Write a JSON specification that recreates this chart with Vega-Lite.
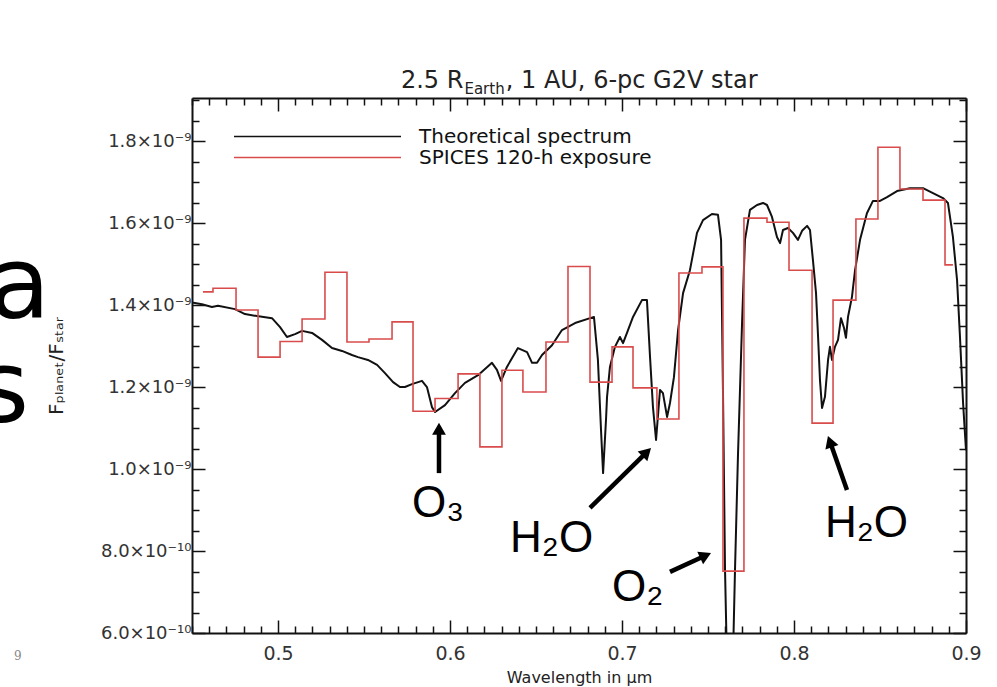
{
  "$schema": "https://vega.github.io/schema/vega-lite/v6.json",
  "width": 774,
  "height": 535,
  "autosize": {"type": "none"},
  "padding": {"left": 192, "top": 98, "right": 31, "bottom": 54},
  "background": "white",
  "config": {
    "view": {"stroke": null},
    "font": "DejaVu Sans",
    "axis": {
      "domainColor": "#111111",
      "domainWidth": 2,
      "tickColor": "#111111",
      "tickWidth": 1.5,
      "labelFont": "DejaVu Sans",
      "labelColor": "#333333",
      "titleFont": "DejaVu Sans",
      "titleColor": "#222222",
      "titleFontWeight": "normal",
      "grid": false,
      "labelOverlap": false
    }
  },
  "datasets": {
    "spectrum": [
      {"wl": 0.4500, "flux": 1.406e-9}, {"wl": 0.4558, "flux": 1.402e-9}, {"wl": 0.4616, "flux": 1.395e-9},
      {"wl": 0.4651, "flux": 1.398e-9}, {"wl": 0.4750, "flux": 1.390e-9}, {"wl": 0.4808, "flux": 1.378e-9},
      {"wl": 0.4878, "flux": 1.373e-9}, {"wl": 0.4965, "flux": 1.368e-9}, {"wl": 0.5012, "flux": 1.346e-9},
      {"wl": 0.5052, "flux": 1.322e-9}, {"wl": 0.5099, "flux": 1.329e-9}, {"wl": 0.5140, "flux": 1.337e-9},
      {"wl": 0.5198, "flux": 1.332e-9}, {"wl": 0.5256, "flux": 1.315e-9}, {"wl": 0.5314, "flux": 1.295e-9},
      {"wl": 0.5372, "flux": 1.288e-9}, {"wl": 0.5430, "flux": 1.278e-9}, {"wl": 0.5465, "flux": 1.273e-9},
      {"wl": 0.5523, "flux": 1.266e-9}, {"wl": 0.5576, "flux": 1.254e-9}, {"wl": 0.5622, "flux": 1.234e-9},
      {"wl": 0.5669, "flux": 1.212e-9}, {"wl": 0.5709, "flux": 1.200e-9}, {"wl": 0.5738, "flux": 1.200e-9},
      {"wl": 0.5779, "flux": 1.207e-9}, {"wl": 0.5837, "flux": 1.215e-9}, {"wl": 0.5866, "flux": 1.200e-9},
      {"wl": 0.5895, "flux": 1.151e-9}, {"wl": 0.5913, "flux": 1.139e-9}, {"wl": 0.5971, "flux": 1.156e-9},
      {"wl": 0.6029, "flux": 1.185e-9}, {"wl": 0.6087, "flux": 1.210e-9}, {"wl": 0.6163, "flux": 1.229e-9},
      {"wl": 0.6244, "flux": 1.259e-9}, {"wl": 0.6273, "flux": 1.242e-9}, {"wl": 0.6297, "flux": 1.215e-9},
      {"wl": 0.6331, "flux": 1.249e-9}, {"wl": 0.6395, "flux": 1.295e-9}, {"wl": 0.6448, "flux": 1.285e-9},
      {"wl": 0.6477, "flux": 1.259e-9}, {"wl": 0.6506, "flux": 1.259e-9}, {"wl": 0.6535, "flux": 1.278e-9},
      {"wl": 0.6593, "flux": 1.302e-9}, {"wl": 0.6651, "flux": 1.339e-9}, {"wl": 0.6727, "flux": 1.356e-9},
      {"wl": 0.6837, "flux": 1.371e-9}, {"wl": 0.6860, "flux": 1.266e-9}, {"wl": 0.6878, "flux": 1.095e-9},
      {"wl": 0.6890, "flux": 0.990e-9}, {"wl": 0.6907, "flux": 1.120e-9}, {"wl": 0.6913, "flux": 1.176e-9},
      {"wl": 0.6930, "flux": 1.249e-9}, {"wl": 0.6959, "flux": 1.298e-9}, {"wl": 0.6988, "flux": 1.322e-9},
      {"wl": 0.7006, "flux": 1.307e-9}, {"wl": 0.7029, "flux": 1.332e-9}, {"wl": 0.7064, "flux": 1.371e-9},
      {"wl": 0.7116, "flux": 1.412e-9}, {"wl": 0.7145, "flux": 1.412e-9}, {"wl": 0.7163, "flux": 1.273e-9},
      {"wl": 0.7180, "flux": 1.151e-9}, {"wl": 0.7198, "flux": 1.071e-9}, {"wl": 0.7221, "flux": 1.193e-9},
      {"wl": 0.7238, "flux": 1.185e-9}, {"wl": 0.7262, "flux": 1.127e-9}, {"wl": 0.7279, "flux": 1.161e-9},
      {"wl": 0.7302, "flux": 1.224e-9}, {"wl": 0.7326, "flux": 1.339e-9}, {"wl": 0.7355, "flux": 1.429e-9},
      {"wl": 0.7395, "flux": 1.485e-9}, {"wl": 0.7436, "flux": 1.576e-9}, {"wl": 0.7471, "flux": 1.607e-9},
      {"wl": 0.7523, "flux": 1.622e-9}, {"wl": 0.7558, "flux": 1.620e-9}, {"wl": 0.7576, "flux": 1.559e-9},
      {"wl": 0.7587, "flux": 1.193e-9}, {"wl": 0.7599, "flux": 0.754e-9}, {"wl": 0.7610, "flux": 0.534e-9},
      {"wl": 0.7645, "flux": 0.534e-9}, {"wl": 0.7657, "flux": 0.754e-9}, {"wl": 0.7674, "flux": 1.029e-9},
      {"wl": 0.7698, "flux": 1.356e-9}, {"wl": 0.7715, "flux": 1.559e-9}, {"wl": 0.7744, "flux": 1.632e-9},
      {"wl": 0.7785, "flux": 1.644e-9}, {"wl": 0.7820, "flux": 1.649e-9}, {"wl": 0.7843, "flux": 1.644e-9},
      {"wl": 0.7872, "flux": 1.615e-9}, {"wl": 0.7901, "flux": 1.566e-9}, {"wl": 0.7919, "flux": 1.551e-9},
      {"wl": 0.7936, "flux": 1.583e-9}, {"wl": 0.7965, "flux": 1.588e-9}, {"wl": 0.7994, "flux": 1.576e-9},
      {"wl": 0.8023, "flux": 1.559e-9}, {"wl": 0.8047, "flux": 1.581e-9}, {"wl": 0.8076, "flux": 1.593e-9},
      {"wl": 0.8093, "flux": 1.583e-9}, {"wl": 0.8110, "flux": 1.510e-9}, {"wl": 0.8128, "flux": 1.429e-9},
      {"wl": 0.8140, "flux": 1.322e-9}, {"wl": 0.8151, "flux": 1.217e-9}, {"wl": 0.8163, "flux": 1.149e-9},
      {"wl": 0.8180, "flux": 1.176e-9}, {"wl": 0.8198, "flux": 1.266e-9}, {"wl": 0.8209, "flux": 1.298e-9},
      {"wl": 0.8221, "flux": 1.266e-9}, {"wl": 0.8238, "flux": 1.298e-9}, {"wl": 0.8256, "flux": 1.315e-9},
      {"wl": 0.8273, "flux": 1.368e-9}, {"wl": 0.8291, "flux": 1.344e-9}, {"wl": 0.8302, "flux": 1.320e-9},
      {"wl": 0.8314, "flux": 1.371e-9}, {"wl": 0.8337, "flux": 1.420e-9}, {"wl": 0.8355, "flux": 1.485e-9},
      {"wl": 0.8384, "flux": 1.559e-9}, {"wl": 0.8424, "flux": 1.624e-9}, {"wl": 0.8459, "flux": 1.654e-9},
      {"wl": 0.8500, "flux": 1.654e-9}, {"wl": 0.8541, "flux": 1.663e-9}, {"wl": 0.8599, "flux": 1.678e-9},
      {"wl": 0.8674, "flux": 1.685e-9}, {"wl": 0.8750, "flux": 1.685e-9}, {"wl": 0.8808, "flux": 1.673e-9},
      {"wl": 0.8866, "flux": 1.661e-9}, {"wl": 0.8895, "flux": 1.649e-9}, {"wl": 0.8924, "flux": 1.566e-9},
      {"wl": 0.8948, "flux": 1.461e-9}, {"wl": 0.8965, "flux": 1.322e-9}, {"wl": 0.8983, "flux": 1.161e-9},
      {"wl": 0.9000, "flux": 1.046e-9}
    ],
    "spices": [
      {"wl": 0.4564, "flux": 1.432e-9}, {"wl": 0.4622, "flux": 1.441e-9}, {"wl": 0.4756, "flux": 1.388e-9},
      {"wl": 0.4884, "flux": 1.273e-9}, {"wl": 0.5012, "flux": 1.311e-9}, {"wl": 0.5140, "flux": 1.366e-9},
      {"wl": 0.5273, "flux": 1.480e-9}, {"wl": 0.5401, "flux": 1.310e-9}, {"wl": 0.5529, "flux": 1.317e-9},
      {"wl": 0.5663, "flux": 1.359e-9}, {"wl": 0.5785, "flux": 1.141e-9}, {"wl": 0.5913, "flux": 1.172e-9},
      {"wl": 0.6047, "flux": 1.232e-9}, {"wl": 0.6174, "flux": 1.054e-9}, {"wl": 0.6302, "flux": 1.241e-9},
      {"wl": 0.6424, "flux": 1.188e-9}, {"wl": 0.6558, "flux": 1.310e-9}, {"wl": 0.6686, "flux": 1.494e-9},
      {"wl": 0.6814, "flux": 1.212e-9}, {"wl": 0.6942, "flux": 1.298e-9}, {"wl": 0.7064, "flux": 1.198e-9},
      {"wl": 0.7203, "flux": 1.122e-9}, {"wl": 0.7331, "flux": 1.478e-9}, {"wl": 0.7465, "flux": 1.493e-9},
      {"wl": 0.7587, "flux": 0.751e-9}, {"wl": 0.7709, "flux": 1.612e-9}, {"wl": 0.7843, "flux": 1.602e-9},
      {"wl": 0.7971, "flux": 1.485e-9}, {"wl": 0.8105, "flux": 1.112e-9}, {"wl": 0.8227, "flux": 1.412e-9},
      {"wl": 0.8360, "flux": 1.610e-9}, {"wl": 0.8488, "flux": 1.785e-9}, {"wl": 0.8616, "flux": 1.683e-9},
      {"wl": 0.8750, "flux": 1.656e-9}, {"wl": 0.8878, "flux": 1.498e-9}, {"wl": 0.8924, "flux": 1.498e-9}
    ],
    "arrows": [
      {"feature": "O3", "wl": 0.5936, "flux": 0.990e-9, "wl2": 0.5936, "flux2": 1.098e-9, "angle": 0},
      {"feature": "H2O a", "wl": 0.6814, "flux": 0.905e-9, "wl2": 0.7144, "flux2": 1.041e-9, "angle": 45.5},
      {"feature": "O2", "wl": 0.7279, "flux": 0.749e-9, "wl2": 0.7486, "flux2": 0.789e-9, "angle": 65},
      {"feature": "H2O b", "wl": 0.8308, "flux": 0.949e-9, "wl2": 0.8209, "flux2": 1.067e-9, "angle": 340.6}
    ],
    "species": [
      {"text": "O₃", "wl": 0.5779, "flux": 0.883e-9},
      {"text": "H₂O", "wl": 0.6349, "flux": 0.798e-9},
      {"text": "O₂", "wl": 0.6942, "flux": 0.678e-9},
      {"text": "H₂O", "wl": 0.8180, "flux": 0.834e-9}
    ]
  },
  "layer": [
    {
      "data": {"name": "spectrum"},
      "mark": {"type": "line", "clip": true, "strokeWidth": 2, "strokeJoin": "round"},
      "encoding": {
        "x": {
          "field": "wl", "type": "quantitative",
          "scale": {"domain": [0.45, 0.9], "nice": false, "zero": false},
          "axis": {
            "orient": "bottom",
            "values": [0.45,0.46,0.47,0.48,0.49,0.5,0.51,0.52,0.53,0.54,0.55,0.56,0.57,0.58,0.59,0.6,0.61,0.62,0.63,0.64,0.65,0.66,0.67,0.68,0.69,0.7,0.71,0.72,0.73,0.74,0.75,0.76,0.77,0.78,0.79,0.8,0.81,0.82,0.83,0.84,0.85,0.86,0.87,0.88,0.89,0.9],
            "labelExpr": "abs(datum.value*10 - round(datum.value*10)) < 0.001 ? format(datum.value, '.1f') : ''",
            "tickSize": {"condition": {"test": "abs(datum.value*10 - round(datum.value*10)) < 0.001", "value": -13}, "value": -7},
            "labelPadding": 24,
            "labelFontSize": 19,
            "labelFlush": false,
            "title": "Wavelength in μm",
            "titleFontSize": 16,
            "titlePadding": 0
          }
        },
        "y": {
          "field": "flux", "type": "quantitative",
          "scale": {"domain": [6e-10, 1.905e-9], "nice": false, "zero": false},
          "axis": {
            "orient": "left",
            "values": [6e-10,6.5e-10,7e-10,7.5e-10,8e-10,8.5e-10,9e-10,9.5e-10,1e-9,1.05e-9,1.1e-9,1.15e-9,1.2e-9,1.25e-9,1.3e-9,1.35e-9,1.4e-9,1.45e-9,1.5e-9,1.55e-9,1.6e-9,1.65e-9,1.7e-9,1.75e-9,1.8e-9,1.85e-9,1.9e-9],
            "labelExpr": "abs(datum.value*5e9 - round(datum.value*5e9)) < 0.01 ? (datum.value > 9.5e-10 ? format(datum.value*1e9, '.1f') + '×10⁻⁹' : format(datum.value*1e10, '.1f') + '×10⁻¹⁰') : ''",
            "tickSize": {"condition": {"test": "abs(datum.value*5e9 - round(datum.value*5e9)) < 0.01", "value": -13}, "value": -7},
            "labelPadding": 14,
            "labelFontSize": 18,
            "title": "Fₚₗₐₙₑₜ/Fₛₜₐᵣ",
            "titleFontSize": 20,
            "titlePadding": 34
          }
        },
        "color": {
          "datum": "Theoretical spectrum",
          "type": "nominal",
          "scale": {"domain": ["Theoretical spectrum", "SPICES 120-h exposure"], "range": ["#111111", "#d94c4c"]},
          "legend": {
            "orient": "none",
            "legendX": 41,
            "legendY": 28,
            "title": null,
            "symbolType": "stroke",
            "symbolSize": 27889,
            "symbolStrokeWidth": 1.5,
            "clipHeight": 21,
            "rowPadding": 0,
            "labelFont": "DejaVu Sans",
            "labelFontSize": 20,
            "labelLimit": 500,
            "labelOffset": 17,
            "labelColor": "#111111"
          }
        }
      }
    },
    {
      "data": {"name": "spices"},
      "mark": {"type": "line", "clip": true, "strokeWidth": 1.6, "interpolate": "step-after"},
      "encoding": {
        "x": {
          "field": "wl", "type": "quantitative",
          "scale": {"domain": [0.45, 0.9], "nice": false, "zero": false},
          "axis": {
            "orient": "top",
            "values": [0.45,0.46,0.47,0.48,0.49,0.5,0.51,0.52,0.53,0.54,0.55,0.56,0.57,0.58,0.59,0.6,0.61,0.62,0.63,0.64,0.65,0.66,0.67,0.68,0.69,0.7,0.71,0.72,0.73,0.74,0.75,0.76,0.77,0.78,0.79,0.8,0.81,0.82,0.83,0.84,0.85,0.86,0.87,0.88,0.89,0.9],
            "tickSize": {"condition": {"test": "abs(datum.value*10 - round(datum.value*10)) < 0.001", "value": -13}, "value": -7},
            "labels": false,
            "title": null
          }
        },
        "y": {
          "field": "flux", "type": "quantitative",
          "scale": {"domain": [6e-10, 1.905e-9], "nice": false, "zero": false},
          "axis": {
            "orient": "right",
            "values": [6e-10,6.5e-10,7e-10,7.5e-10,8e-10,8.5e-10,9e-10,9.5e-10,1e-9,1.05e-9,1.1e-9,1.15e-9,1.2e-9,1.25e-9,1.3e-9,1.35e-9,1.4e-9,1.45e-9,1.5e-9,1.55e-9,1.6e-9,1.65e-9,1.7e-9,1.75e-9,1.8e-9,1.85e-9,1.9e-9],
            "tickSize": {"condition": {"test": "abs(datum.value*5e9 - round(datum.value*5e9)) < 0.01", "value": -13}, "value": -7},
            "labels": false,
            "title": null
          }
        },
        "color": {"datum": "SPICES 120-h exposure", "type": "nominal"}
      }
    },
    {
      "data": {"name": "arrows"},
      "mark": {"type": "rule", "color": "#000000", "strokeWidth": 4.5},
      "encoding": {
        "x": {"field": "wl", "type": "quantitative", "scale": {"domain": [0.45, 0.9], "nice": false, "zero": false}, "axis": null},
        "y": {"field": "flux", "type": "quantitative", "scale": {"domain": [6e-10, 1.905e-9], "nice": false, "zero": false}, "axis": null},
        "x2": {"field": "wl2"},
        "y2": {"field": "flux2"}
      }
    },
    {
      "data": {"name": "arrows"},
      "mark": {"type": "point", "shape": "triangle-up", "filled": true, "color": "#000000", "opacity": 1, "size": 190},
      "encoding": {
        "x": {"field": "wl2", "type": "quantitative", "scale": {"domain": [0.45, 0.9], "nice": false, "zero": false}, "axis": null},
        "y": {"field": "flux2", "type": "quantitative", "scale": {"domain": [6e-10, 1.905e-9], "nice": false, "zero": false}, "axis": null},
        "angle": {"field": "angle", "type": "quantitative", "scale": null}
      }
    },
    {
      "data": {"name": "species"},
      "mark": {"type": "text", "align": "left", "baseline": "alphabetic", "font": "Liberation Sans", "fontSize": 44, "color": "#000000", "clip": false},
      "encoding": {
        "x": {"field": "wl", "type": "quantitative", "scale": {"domain": [0.45, 0.9], "nice": false, "zero": false}, "axis": null},
        "y": {"field": "flux", "type": "quantitative", "scale": {"domain": [6e-10, 1.905e-9], "nice": false, "zero": false}, "axis": null},
        "text": {"field": "text"}
      }
    },
    {
      "data": {"values": [{"text": "2.5 R", "wl": 0.6078, "flux": 1.929e-9}]},
      "mark": {"type": "text", "align": "right", "baseline": "alphabetic", "font": "DejaVu Sans", "fontSize": 24, "color": "#222222", "clip": false},
      "encoding": {
        "x": {"field": "wl", "type": "quantitative", "scale": {"domain": [0.45, 0.9], "nice": false, "zero": false}, "axis": null},
        "y": {"field": "flux", "type": "quantitative", "scale": {"domain": [6e-10, 1.905e-9], "nice": false, "zero": false}, "axis": null},
        "text": {"field": "text"}
      }
    },
    {
      "data": {"values": [{"text": "Earth", "wl": 0.6084, "flux": 1.914e-9}]},
      "mark": {"type": "text", "align": "left", "baseline": "alphabetic", "font": "DejaVu Sans", "fontSize": 15, "color": "#222222", "clip": false},
      "encoding": {
        "x": {"field": "wl", "type": "quantitative", "scale": {"domain": [0.45, 0.9], "nice": false, "zero": false}, "axis": null},
        "y": {"field": "flux", "type": "quantitative", "scale": {"domain": [6e-10, 1.905e-9], "nice": false, "zero": false}, "axis": null},
        "text": {"field": "text"}
      }
    },
    {
      "data": {"values": [{"text": ", 1 AU, 6-pc G2V star", "wl": 0.6324, "flux": 1.929e-9}]},
      "mark": {"type": "text", "align": "left", "baseline": "alphabetic", "font": "DejaVu Sans", "fontSize": 24, "color": "#222222", "clip": false},
      "encoding": {
        "x": {"field": "wl", "type": "quantitative", "scale": {"domain": [0.45, 0.9], "nice": false, "zero": false}, "axis": null},
        "y": {"field": "flux", "type": "quantitative", "scale": {"domain": [6e-10, 1.905e-9], "nice": false, "zero": false}, "axis": null},
        "text": {"field": "text"}
      }
    },
    {
      "data": {"values": [{"text": "a", "wl": 0.3320, "flux": 1.368e-9}, {"text": "s", "wl": 0.3250, "flux": 1.115e-9}]},
      "mark": {"type": "text", "align": "left", "baseline": "alphabetic", "font": "DejaVu Sans", "fontSize": 100, "color": "#000000", "clip": false},
      "encoding": {
        "x": {"field": "wl", "type": "quantitative", "scale": {"domain": [0.45, 0.9], "nice": false, "zero": false}, "axis": null},
        "y": {"field": "flux", "type": "quantitative", "scale": {"domain": [6e-10, 1.905e-9], "nice": false, "zero": false}, "axis": null},
        "text": {"field": "text"}
      }
    },
    {
      "data": {"values": [{"text": "9", "wl": 0.3465, "flux": 0.534e-9}]},
      "mark": {"type": "text", "align": "left", "baseline": "alphabetic", "font": "DejaVu Serif", "fontSize": 12, "color": "#888888", "clip": false},
      "encoding": {
        "x": {"field": "wl", "type": "quantitative", "scale": {"domain": [0.45, 0.9], "nice": false, "zero": false}, "axis": null},
        "y": {"field": "flux", "type": "quantitative", "scale": {"domain": [6e-10, 1.905e-9], "nice": false, "zero": false}, "axis": null},
        "text": {"field": "text"}
      }
    }
  ],
  "resolve": {"axis": {"x": "independent", "y": "independent"}}
}
